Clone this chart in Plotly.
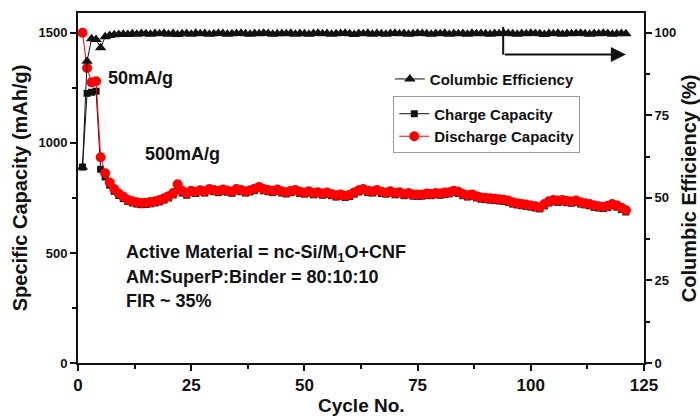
import plotly.graph_objects as go

# Cycle numbers
cycles = list(range(1, 122))

# Discharge capacity (mAh/g)
discharge = [
    1500, 1340, 1275, 1280, 935, 862, 820, 790, 770, 755,
    742, 735, 730, 727, 728, 731, 735, 740, 748, 758,
    772, 812, 782, 770, 782, 778, 785, 780, 790, 786,
    782, 788, 784, 779, 790, 786, 780, 785, 792, 800,
    790, 786, 782, 788, 780, 776, 782, 786, 778, 775,
    780, 772, 776, 770, 774, 768, 762, 766, 760, 764,
    775, 785, 790, 782, 780, 786, 778, 775, 780, 772,
    776, 768, 772, 766, 765, 766, 770, 768, 772, 770,
    774, 776, 782, 778, 768, 762, 766, 758, 752, 750,
    748, 746, 744, 742, 738, 730, 726, 722, 720, 716,
    712, 708, 722, 735, 740, 738, 740, 736, 734, 738,
    730, 726, 722, 715, 712, 710, 714, 722, 716, 705,
    694,
]

# Charge capacity (mAh/g)
charge = [
    890, 1225, 1230, 1235, 880, 845, 808, 780, 761, 747,
    734, 727, 722, 719, 720, 723, 727, 732, 740, 750,
    764, 800, 772, 762, 774, 770, 777, 772, 782, 778,
    774, 780, 776, 771, 782, 778, 772, 777, 784, 792,
    782, 778, 774, 780, 772, 768, 774, 778, 770, 767,
    772, 764, 768, 762, 766, 760, 754, 758, 752, 756,
    767, 777, 782, 774, 772, 778, 770, 767, 772, 764,
    768, 760, 764, 758, 757, 758, 762, 760, 764, 762,
    766, 768, 774, 770, 760, 754, 758, 750, 744, 742,
    740, 738, 736, 734, 730, 722, 718, 714, 712, 708,
    704, 700, 714, 727, 732, 730, 732, 728, 726, 730,
    722, 718, 714, 707, 704, 702, 706, 714, 708, 697,
    686,
]

# Columbic efficiency (%)
efficiency = [
    59.3, 91.4, 98.2, 98.0, 95.5, 98.8, 99.2, 99.4, 99.5, 99.6,
    99.5, 99.7, 99.6, 99.8, 99.7, 99.6, 99.8, 99.7, 99.9, 99.6,
    99.8, 99.5, 99.7, 99.8, 99.6, 99.9, 99.7, 99.8, 99.6, 99.7,
    99.9, 99.8, 99.6, 99.7, 99.8, 99.9, 99.7, 99.6, 99.8, 99.7,
    99.9, 99.8, 99.6, 99.7, 99.8, 99.7, 99.9, 99.6, 99.8, 99.7,
    99.6, 99.8, 99.9, 99.7, 99.8, 99.6, 99.7, 99.8, 99.9, 99.7,
    99.5, 99.8, 99.7, 99.9, 99.6, 99.8, 99.7, 99.6, 99.8, 99.9,
    99.7, 99.8, 99.6, 99.7, 99.9, 99.8, 99.7, 99.6, 99.8, 99.7,
    99.9, 99.6, 99.8, 99.7, 99.8, 99.6, 99.9, 99.7, 99.8, 99.7,
    99.6, 99.8, 99.7, 99.9, 99.8, 99.7, 99.6, 99.8, 99.7, 99.9,
    99.8, 99.7, 99.5, 99.8, 99.7, 99.9, 99.6, 99.8, 99.7, 99.8,
    99.9, 99.7, 99.6, 99.8, 99.7, 99.9, 99.8, 99.6, 99.7, 99.8,
    99.7,
]

x_ticks = [0, 25, 50, 75, 100, 125]
cap_ticks = [0, 500, 1000, 1500]
eff_ticks = [0, 25, 50, 75, 100]

FONT = "Liberation Sans"
BLACK = "#111111"
RED = "#ff0000"

fig = go.Figure()

fig.add_trace(go.Scatter(
    x=cycles, y=charge, name="Charge Capacity", mode="lines+markers",
    line=dict(color=BLACK, width=1),
    marker=dict(symbol="square", size=7, color=BLACK),
    legend="legend2", showlegend=True,
))
fig.add_trace(go.Scatter(
    x=cycles, y=discharge, name="Discharge Capacity", mode="lines+markers",
    line=dict(color=RED, width=1),
    marker=dict(symbol="circle", size=10, color=RED),
    legend="legend2", showlegend=True,
))
fig.add_trace(go.Scatter(
    x=cycles, y=efficiency, name="Columbic Efficiency", mode="lines+markers",
    line=dict(color=BLACK, width=1),
    marker=dict(symbol="triangle-up", size=10, color=BLACK),
    yaxis="y2", legend="legend", showlegend=True,
))

axis_common = dict(
    showline=True, linecolor=BLACK, linewidth=2,
    ticks="outside", tickcolor=BLACK, tickwidth=1.5, ticklen=6,
    showgrid=False, zeroline=False,
)

fig.update_layout(
    width=700, height=416,
    margin=dict(l=78, r=56, t=11, b=53),
    paper_bgcolor="white", plot_bgcolor="white",
    font=dict(family=FONT, color=BLACK, weight="bold"),
    showlegend=True,
    xaxis=dict(
        range=[0, 125], tickvals=x_ticks, mirror=True,
        tickfont=dict(size=17, family=FONT, weight="bold"),
        minor=dict(ticks="outside", tickvals=[12.5, 37.5, 62.5, 87.5, 112.5],
                   ticklen=4, tickcolor=BLACK, tickwidth=1.5),
        **axis_common,
    ),
    yaxis=dict(
        range=[0, 1590], tickvals=cap_ticks,
        tickfont=dict(size=13, family=FONT, weight="bold"),
        minor=dict(ticks="outside", tickvals=[250, 750, 1250],
                   ticklen=4, tickcolor=BLACK, tickwidth=1.5),
        **axis_common,
    ),
    yaxis2=dict(
        range=[0, 106], tickvals=eff_ticks, overlaying="y", side="right",
        tickfont=dict(size=13, family=FONT, weight="bold"),
        minor=dict(ticks="outside", tickvals=[12.5, 37.5, 62.5, 87.5],
                   ticklen=4, tickcolor=BLACK, tickwidth=1.5),
        **axis_common,
    ),
    legend=dict(
        x=0.551, y=0.858, xanchor="left", yanchor="top",
        bgcolor="rgba(0,0,0,0)", borderwidth=0,
        font=dict(size=15, family=FONT, weight="bold"),
    ),
    legend2=dict(
        x=0.557, y=0.7615, xanchor="left", yanchor="top",
        bgcolor="rgba(255,255,255,0)", bordercolor="#9a9a9a", borderwidth=1,
        font=dict(size=15, family=FONT, weight="bold"),
    ),
)

# Axis titles
fig.add_annotation(text="Specific Capacity (mAh/g)", xref="paper", yref="paper",
                   x=-0.102, y=0.5, textangle=-90, showarrow=False,
                   xanchor="center", yanchor="middle",
                   font=dict(size=20, family=FONT, weight="bold"))
fig.add_annotation(text="Columbic Efficiency (%)", xref="paper", yref="paper",
                   x=1.08, y=0.5, textangle=-90, showarrow=False,
                   xanchor="center", yanchor="middle",
                   font=dict(size=20, family=FONT, weight="bold"))
fig.add_annotation(text="Cycle No.", xref="paper", yref="paper",
                   x=0.5, y=-0.122, showarrow=False,
                   xanchor="center", yanchor="middle",
                   font=dict(size=19, family=FONT, weight="bold"))

# Current-rate labels and cell details
notes = [
    ("50mA/g", 0.0495, 0.815),
    ("500mA/g", 0.115, 0.597),
    ("Active Material = nc-Si/M<sub>1</sub>O+CNF", 0.082, 0.313),
    ("AM:SuperP:Binder = 80:10:10", 0.082, 0.245),
    ("FIR ~ 35%", 0.082, 0.177),
]
for text, px, py in notes:
    fig.add_annotation(text=text, xref="paper", yref="paper", x=px, y=py,
                       showarrow=False, xanchor="left", yanchor="middle",
                       font=dict(size=18, family=FONT, weight="bold"))

# Pointer to the efficiency axis
fig.add_shape(type="line", xref="x", yref="y2", x0=93.9, x1=93.9, y0=101.8, y1=93.4,
              line=dict(color=BLACK, width=2))
fig.add_annotation(xref="x", yref="y2", axref="x", ayref="y2",
                   x=121, y=93.4, ax=93.9, ay=93.4, text="", showarrow=True,
                   arrowhead=2, arrowsize=1.5, arrowwidth=2, arrowcolor=BLACK)

fig.write_html("out.html")
